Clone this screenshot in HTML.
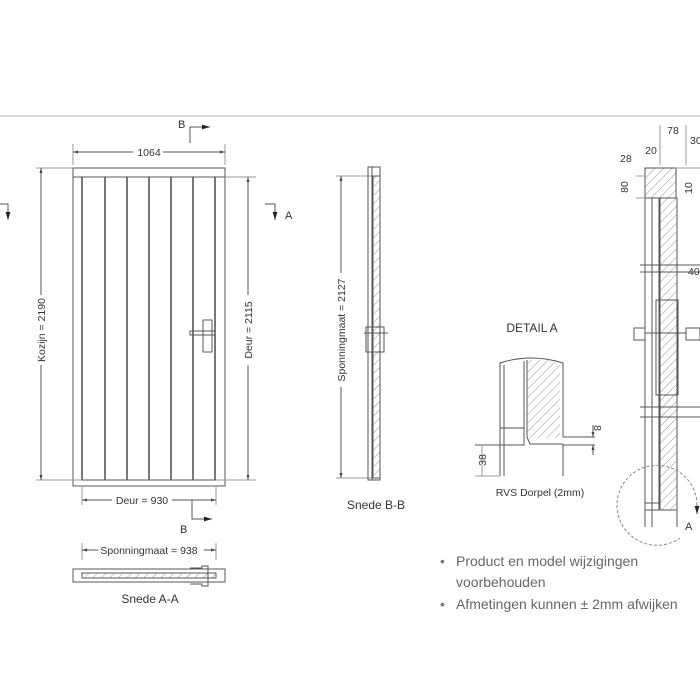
<!DOCTYPE html><html><head><style>body{margin:0;background:#fff}svg{display:block}text{font-family:"Liberation Sans",sans-serif;fill:#333}</style></head><body>
<svg width="700" height="700" viewBox="0 0 700 700" xmlns="http://www.w3.org/2000/svg">
<defs>
<pattern id="h" width="6" height="6" patternUnits="userSpaceOnUse" patternTransform="rotate(45)"><line x1="0" y1="0" x2="0" y2="6" stroke="#777" stroke-width="0.8"/></pattern>
<marker id="a" viewBox="0 0 10 10" refX="10" refY="5" markerWidth="5" markerHeight="5" orient="auto-start-reverse"><path d="M0,2 L10,5 L0,8z" fill="#444"/></marker>
<marker id="b" viewBox="0 0 10 10" refX="10" refY="5" markerWidth="8" markerHeight="8" orient="auto"><path d="M0,2 L10,5 L0,8z" fill="#222"/></marker>
</defs>
<line x1="0" y1="116" x2="700" y2="116" stroke="#ddd" stroke-width="2"/>
<g stroke="#555" fill="none" stroke-width="1">
<rect x="73" y="168" width="152" height="318"/>
<line x1="73" y1="177" x2="225" y2="177"/>
<line x1="82" y1="480" x2="216" y2="480"/>
<g stroke-width="1.6"><line x1="82" y1="177" x2="82" y2="480"/><line x1="105" y1="177" x2="105" y2="480"/><line x1="127" y1="177" x2="127" y2="480"/><line x1="149" y1="177" x2="149" y2="480"/><line x1="171" y1="177" x2="171" y2="480"/><line x1="193" y1="177" x2="193" y2="480"/><line x1="215" y1="177" x2="215" y2="480"/></g>
<rect x="203" y="320" width="9" height="32"/><rect x="190" y="331" width="25" height="4"/>
<line x1="73" y1="144" x2="73" y2="165" stroke="#999"/><line x1="225" y1="144" x2="225" y2="165" stroke="#999"/>
<line x1="73" y1="152" x2="133" y2="152" marker-start="url(#a)"/><line x1="163" y1="152" x2="225" y2="152" marker-end="url(#a)"/>
<line x1="36" y1="168" x2="73" y2="168" stroke="#999"/><line x1="36" y1="480" x2="82" y2="480" stroke="#999"/>
<line x1="41" y1="168" x2="41" y2="295" marker-start="url(#a)"/><line x1="41" y1="365" x2="41" y2="480" marker-end="url(#a)"/>
<line x1="225" y1="177" x2="256" y2="177" stroke="#999"/><line x1="216" y1="480" x2="256" y2="480" stroke="#999"/>
<line x1="248" y1="177" x2="248" y2="295" marker-start="url(#a)"/><line x1="248" y1="365" x2="248" y2="480" marker-end="url(#a)"/>
<line x1="82" y1="486" x2="82" y2="505" stroke="#999"/><line x1="216" y1="486" x2="216" y2="505" stroke="#999"/>
<line x1="82" y1="500" x2="112" y2="500" marker-start="url(#a)"/><line x1="172" y1="500" x2="216" y2="500" marker-end="url(#a)"/>
<polyline points="190,143 190,127 210,127" marker-end="url(#b)"/>
<polyline points="192,500 192,519 212,519" marker-end="url(#b)"/>
<polyline points="265,204 275,204 275,220" marker-end="url(#b)"/>
<polyline points="0,204 8,204 8,220" marker-end="url(#b)"/>
<line x1="82" y1="543" x2="82" y2="560" stroke="#999"/><line x1="216" y1="543" x2="216" y2="560" stroke="#999"/>
<line x1="82" y1="550" x2="98" y2="550" marker-start="url(#a)"/><line x1="204" y1="550" x2="216" y2="550" marker-end="url(#a)"/>
<rect x="73" y="569" width="152" height="13"/>
<rect x="82" y="573" width="134" height="5" fill="url(#h)"/>
<path d="M190,568 h12 v-2 h6 v20 h-6 v-2 h-12"/>
<line x1="336" y1="176" x2="372" y2="176" stroke="#999"/><line x1="336" y1="478" x2="372" y2="478" stroke="#999"/>
<line x1="341" y1="176" x2="341" y2="273" marker-start="url(#a)"/><line x1="341" y1="387" x2="341" y2="478" marker-end="url(#a)"/>
<rect x="368" y="167" width="12" height="313"/>
<line x1="372" y1="167" x2="372" y2="480"/>
<rect x="373" y="176" width="7" height="302" fill="url(#h)"/>
<rect x="366" y="327" width="18" height="25"/><line x1="364" y1="333" x2="388" y2="333"/>
<path d="M500,476 V363 Q531,353 563,363 V437"/>
<line x1="504" y1="365" x2="504" y2="476"/>
<line x1="524" y1="361" x2="524" y2="440"/><line x1="527" y1="360" x2="527" y2="437"/>
<rect x="527" y="360" width="33" height="78" fill="url(#h)" stroke="none"/>
<path d="M500,428 H524 M527,437 L530,444 H563 M563,437 H595 M475,445 H524 L524,440"/>
<path d="M563,444 V476 M563,445 H595"/>
<line x1="475" y1="476" x2="500" y2="476" stroke="#999"/>
<line x1="482" y1="445" x2="482" y2="476" stroke="#999"/>
<line x1="593" y1="425" x2="593" y2="437" marker-end="url(#a)"/><line x1="593" y1="455" x2="593" y2="445" marker-end="url(#a)"/>
<!-- right section -->
<line x1="645" y1="168" x2="645" y2="527"/><line x1="652" y1="198" x2="652" y2="527"/>
<rect x="645" y="168" width="31" height="30" fill="url(#h)"/>
<line x1="676" y1="168" x2="700" y2="168" stroke="#999"/>
<line x1="659" y1="198" x2="659" y2="510"/>
<rect x="660" y="198" width="17" height="312" fill="url(#h)"/>
<line x1="677" y1="198" x2="677" y2="527"/>
<line x1="640" y1="265" x2="700" y2="265"/><line x1="640" y1="272" x2="700" y2="272"/>
<line x1="640" y1="407" x2="700" y2="407"/><line x1="640" y1="417" x2="700" y2="417"/>
<rect x="656" y="300" width="22" height="95"/>
<rect x="634" y="328" width="11" height="12"/><line x1="645" y1="333" x2="686" y2="333"/><rect x="686" y="328" width="14" height="12"/>
<path d="M645,503 H659 M645,510 H677"/>
<path d="M697,505 A40,40 0 1 0 680,538" stroke-dasharray="3,2" stroke="#888"/>
<line x1="697" y1="505" x2="697" y2="514" marker-end="url(#b)"/>
<line x1="660" y1="125" x2="660" y2="165" stroke="#999"/><line x1="686" y1="125" x2="686" y2="165" stroke="#999"/>
<line x1="636" y1="176" x2="645" y2="176" stroke="#999"/><line x1="636" y1="198" x2="645" y2="198" stroke="#999"/>
</g>
<g font-size="10.5">
<text x="149" y="156" text-anchor="middle">1064</text>
<text x="178" y="128" font-size="11">B</text>
<text x="180" y="533" font-size="11">B</text>
<text x="285" y="219" font-size="11">A</text>
<text transform="translate(45,330) rotate(-90)" text-anchor="middle">Kozijn = 2190</text>
<text transform="translate(252,330) rotate(-90)" text-anchor="middle">Deur = 2115</text>
<text x="142" y="504" text-anchor="middle">Deur = 930</text>
<text x="149" y="554" text-anchor="middle">Sponningmaat = 938</text>
<text x="150" y="603" text-anchor="middle" font-size="12">Snede A-A</text>
<text transform="translate(345,330) rotate(-90)" text-anchor="middle">Sponningmaat = 2127</text>
<text x="376" y="509" text-anchor="middle" font-size="12">Snede B-B</text>
<text x="532" y="332" text-anchor="middle" font-size="12">DETAIL  A</text>
<text transform="translate(486,460) rotate(-90)" text-anchor="middle">38</text>
<text transform="translate(594,428) rotate(90)" text-anchor="middle">8</text>
<text x="540" y="496" text-anchor="middle">RVS Dorpel (2mm)</text>
<text x="673" y="134" text-anchor="middle">78</text>
<text x="690" y="144">30</text>
<text x="651" y="154" text-anchor="middle">20</text>
<text x="620" y="162">28</text>
<text transform="translate(628,187) rotate(-90)" text-anchor="middle">80</text>
<text transform="translate(692,188) rotate(-90)" text-anchor="middle">10</text>
<text x="688" y="275">40</text>
<text x="685" y="530" font-size="11">A</text>
</g>
<g font-size="14">
<text x="440" y="566" style="fill:#777">•</text><text x="456" y="566" style="fill:#666">Product en model wijzigingen</text>
<text x="456" y="587" style="fill:#666">voorbehouden</text>
<text x="440" y="609" style="fill:#777">•</text><text x="456" y="609" style="fill:#666">Afmetingen kunnen ± 2mm afwijken</text>
</g>
</svg></body></html>
